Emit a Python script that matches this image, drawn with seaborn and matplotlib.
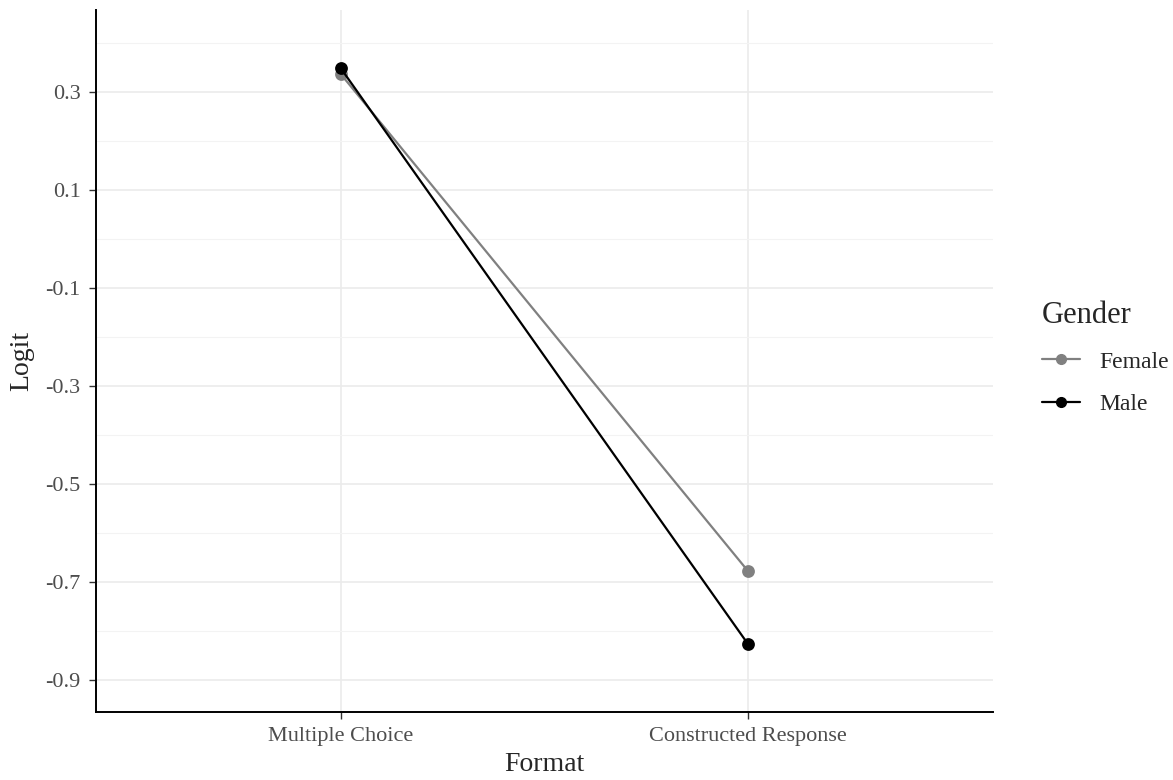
import pandas as pd
import numpy as np
import matplotlib.pyplot as plt
import seaborn as sns
from matplotlib.lines import Line2D

formats = ['Multiple Choice', 'Constructed Response']
genders = ['Female', 'Male']
female_logit = [0.337, -0.678]
male_logit = [0.349, -0.827]

df = pd.DataFrame({
    'Format': formats * 2,
    'Gender': ['Female'] * 2 + ['Male'] * 2,
    'Logit': female_logit + male_logit,
})

sns.set_style('white')
plt.rcParams['font.family'] = ['Liberation Serif', 'DejaVu Serif']

fig = plt.figure(figsize=(11.73, 7.8), dpi=100)
ax = fig.add_axes([0.0818, 0.087, 0.7647, 0.900])

palette = {'Female': '#808080', 'Male': '#000000'}
sns.pointplot(data=df, x='Format', y='Logit', hue='Gender', order=formats,
              hue_order=genders, palette=palette, markers='o',
              markersize=8, linewidth=1.6, ax=ax, legend=False)

ax.set_xlim(-0.6, 1.6)
ax.set_ylim(-0.965, 0.467)
major = [0.3, 0.1, -0.1, -0.3, -0.5, -0.7, -0.9]
minor = [0.4, 0.2, 0.0, -0.2, -0.4, -0.6, -0.8]
ax.set_yticks(major)
ax.set_yticklabels([f'{v:.1f}' for v in major])
ax.set_yticks(minor, minor=True)
ax.grid(True, which='major', color='#ebebeb', linewidth=1.2, zorder=0)
ax.grid(True, which='minor', axis='y', color='#f3f3f3', linewidth=0.8, zorder=0)
ax.set_axisbelow(True)

for s in ['top', 'right']:
    ax.spines[s].set_visible(False)
for s in ['left', 'bottom']:
    ax.spines[s].set_color('black')
    ax.spines[s].set_linewidth(1.4)

ax.tick_params(axis='both', which='major', length=5, width=1, color='#333333',
               labelsize=16, labelcolor='#4d4d4d', left=True, bottom=True,
               pad=6)
ax.tick_params(axis='y', which='minor', length=0)
ax.set_xlabel('Format', fontsize=20, labelpad=4)
ax.set_ylabel('Logit', fontsize=20, labelpad=8)

handles = [Line2D([], [], color=palette[g], marker='o', markersize=7,
                  linewidth=1.6) for g in genders]
leg = fig.legend(handles, genders, title='Gender', loc='center left',
                 bbox_to_anchor=(0.870, 0.541), frameon=False, fontsize=17,
                 title_fontsize=22, handlelength=1.6, labelspacing=0.9,
                 handletextpad=0.85)
leg._legend_box.align = 'left'

plt.savefig('out.png', dpi=100)
